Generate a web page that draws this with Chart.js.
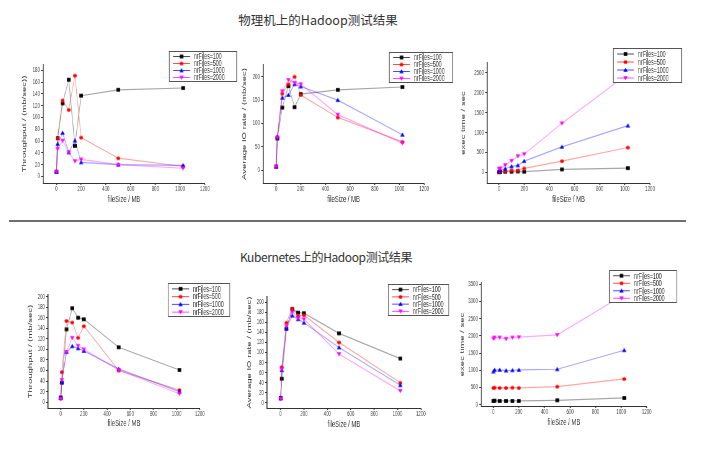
<!DOCTYPE html>
<html>
<head>
<meta charset="utf-8">
<script src="https://cdn.jsdelivr.net/npm/chart.js@4"></script>
<style>
  body { margin: 0; background: #fff; width: 714px; height: 452px; position: relative; overflow: hidden; }
  .title { position: absolute; transform: translate(-50%, -50%); white-space: nowrap; color: #333; font-family: "Noto Sans CJK SC", sans-serif; }
  #rule { position: absolute; left: 9px; top: 220px; width: 677px; height: 2px; background: #6e6e6e; }
  canvas { position: absolute; transform-origin: 0 0; }
</style>
</head>
<body>
<div class="title" style="left:318px;top:19px;font-size:12.5px">物理机上的Hadoop测试结果</div>
<div id="rule"></div>
<div class="title" style="left:326px;top:256px;font-size:12px;letter-spacing:-0.4px">Kubernetes上的Hadoop测试结果</div>
<canvas id="c1"></canvas>
<canvas id="c2"></canvas>
<canvas id="c3"></canvas>
<canvas id="c4"></canvas>
<canvas id="c5"></canvas>
<canvas id="c6"></canvas>
<script>
  // file sizes (MB) and series names
  const fileSize = [1, 10, 50, 100, 150, 200, 500, 1024];
  const seriesNames = ["nrFiles=100", "nrFiles=500", "nrFiles=1000", "nrFiles=2000"];
  const xTicks = [0, 200, 400, 600, 800, 1000, 1200];

  // physical machine
  const phyTput100 = [8, 65, 124, 164, 52, 137, 147, 150];
  const phyTput500 = [8, 65, 129, 113, 171, 66, 31, 17];
  const phyTput1000 = [8, 55, 74, 41, 61, 24, 20, 19];
  const phyTput2000 = [8, 47, 61, 41, 26, 29, 20, 14];

  const phyIo100 = [8, 68, 134, 180, 135, 163, 172, 178];
  const phyIo500 = [8, 71, 164, 184, 200, 161, 113, 61];
  const phyIo1000 = [8, 72, 155, 161, 184, 179, 150, 76];
  const phyIo2000 = [8, 70, 169, 193, 187, 184, 119, 58];

  const phyExec100 = [5, 8, 17, 17, 25, 17, 75, 108];
  const phyExec500 = [20, 25, 33, 50, 50, 100, 283, 625];
  const phyExec1000 = [40, 58, 92, 150, 175, 283, 642, 1175];
  const phyExec2000 = [90, 100, 183, 292, 408, 458, 1233, 2480];

  // kubernetes
  const k8sTput100 = [9, 37, 138, 178, 160, 157, 104, 61];
  const k8sTput500 = [7, 57, 154, 151, 122, 144, 60, 23];
  const k8sTput1000 = [8, 38, 95, 106, 102, 97, 63, 20];
  const k8sTput2000 = [6, 42, 95, 122, 107, 100, 61, 16];

  const k8sIo100 = [10, 48, 147, 186, 179, 178, 138, 88];
  const k8sIo500 = [9, 71, 159, 187, 172, 174, 120, 40];
  const k8sIo1000 = [9, 65, 148, 173, 166, 159, 110, 35];
  const k8sIo2000 = [8, 67, 152, 180, 168, 166, 97, 24];

  const k8sExec100 = [107, 116, 107, 107, 107, 107, 126, 194];
  const k8sExec500 = [485, 495, 485, 485, 495, 485, 524, 747];
  const k8sExec1000 = [960, 1009, 1009, 989, 999, 1009, 1028, 1581];
  const k8sExec2000 = [1920, 1950, 1950, 1911, 1950, 1959, 2027, 3200];

  const tputTicksPhy = [0, 20, 40, 60, 80, 100, 120, 140, 160, 180];
  const ioTicksPhy = [0, 50, 100, 150, 200];
  const execTicksPhy = [0, 500, 1000, 1500, 2000, 2500];
  const tputTicksK8s = [0, 20, 40, 60, 80, 100, 120, 140, 160, 180, 200];
  const ioTicksK8s = [0, 20, 40, 60, 80, 100, 120, 140, 160, 180, 200];
  const execTicksK8s = [0, 500, 1000, 1500, 2000, 2500, 3000, 3500];

  // the source plots look squeezed sideways
  const S = 0.62;

  const marks = [
    { color: "#000", line: "rgba(0,0,0,0.35)", shape: "rect" },
    { color: "#f00", line: "rgba(255,0,0,0.35)", shape: "circle" },
    { color: "#00f", line: "rgba(0,0,255,0.35)", shape: "up" },
    { color: "#f0f", line: "rgba(255,0,255,0.35)", shape: "down" },
  ];

  function makeMarker(shape, color) {
    const m = 3.7;
    const c = document.createElement("canvas");
    c.width = Math.ceil(m / S) + 2;
    c.height = Math.ceil(m) + 2;
    const g = c.getContext("2d");
    g.setTransform(1 / S, 0, 0, 1, c.width / 2, c.height / 2);
    g.fillStyle = color;
    g.beginPath();
    if (shape === "rect") g.rect(-m / 2, -m / 2, m, m);
    else if (shape === "circle") g.arc(0, 0, m / 2, 0, Math.PI * 2);
    else if (shape === "up") { g.moveTo(0, -m / 2 - 0.4); g.lineTo(m / 2 + 0.4, m / 2); g.lineTo(-m / 2 - 0.4, m / 2); }
    else { g.moveTo(0, m / 2 + 0.4); g.lineTo(m / 2 + 0.4, -m / 2); g.lineTo(-m / 2 - 0.4, -m / 2); }
    g.closePath();
    g.fill();
    return c;
  }
  marks.forEach(mk => mk.img = makeMarker(mk.shape, mk.color));

  const charts = [
    { id: "c1", plot: [43, 65, 205, 183], legend: [169, 51, 237, 82], yTitleX: 25, xTitleY: 199, xMin: -108, yMin: -11, yMax: 189,
      yTicks: tputTicksPhy, yTitle: "Throughput / (mb/sec))", series: [phyTput100, phyTput500, phyTput1000, phyTput2000] },
    { id: "c2", plot: [263, 65, 424, 183], legend: [389, 52, 453, 83], yTitleX: 245, xTitleY: 199, xMin: -106, yMin: -27, yMax: 225,
      yTicks: ioTicksPhy, yTitle: "Average IO rate / (mb/sec)", series: [phyIo100, phyIo500, phyIo1000, phyIo2000] },
    { id: "c3", plot: [487, 63, 650, 183], legend: [613, 48, 682, 83], yTitleX: 464, xTitleY: 199, xMin: -95, yMin: -267, yMax: 2750,
      yTicks: execTicksPhy, yTitle: "exec time / sec", series: [phyExec100, phyExec500, phyExec1000, phyExec2000] },
    { id: "c4", plot: [48, 295, 200, 408], legend: [168, 283, 230, 317], yTitleX: 31, xTitleY: 423, xMin: -109, yMin: -11, yMax: 203,
      yTicks: tputTicksK8s, yTitle: "Throughput / (mb/sec)", series: [k8sTput100, k8sTput500, k8sTput1000, k8sTput2000] },
    { id: "c5", plot: [267, 297, 421, 408], legend: [388, 284, 449, 316], yTitleX: 250, xTitleY: 424, xMin: -116, yMin: -10, yMax: 210,
      yTicks: ioTicksK8s, yTitle: "Average IO rate / (mb/sec)", series: [k8sIo100, k8sIo500, k8sIo1000, k8sIo2000] },
    { id: "c6", plot: [481, 283, 647, 406], legend: [609, 270, 677, 303], yTitleX: 463, xTitleY: 422, xMin: -96, yMin: -40, yMax: 3535,
      yTicks: execTicksK8s, yTitle: "exec time / sec", series: [k8sExec100, k8sExec500, k8sExec1000, k8sExec2000] },
  ];

  function legendPlugin(lx, ly, lw, lh) {
    return {
      id: "boxLegend",
      afterDraw(chart) {
        const ctx = chart.ctx;
        ctx.save();
        ctx.fillStyle = "#fff";
        ctx.fillRect(lx, ly, lw, lh);
        ctx.strokeStyle = "#555";
        ctx.lineWidth = 1;
        ctx.strokeRect(lx + 0.5, ly + 0.5, lw - 1, lh - 1);
        const rowH = (lh - 3) / 4;
        ctx.font = "8.5px 'Liberation Sans', Arial, sans-serif";
        ctx.textBaseline = "middle";
        seriesNames.forEach((name, i) => {
          const cy = ly + 2 + rowH * (i + 0.5);
          const mk = marks[i];
          ctx.strokeStyle = mk.line.replace("0.35", "0.7");
          ctx.lineWidth = 1;
          ctx.beginPath();
          ctx.moveTo(lx + 4 / S, cy);
          ctx.lineTo(lx + 21 / S, cy);
          ctx.stroke();
          ctx.drawImage(mk.img, lx + 12.5 / S - mk.img.width / 2, cy - mk.img.height / 2);
          ctx.fillStyle = "#333";
          ctx.fillText(name, lx + 25 / S, cy + 0.5);
        });
        ctx.restore();
      }
    };
  }

  charts.forEach(cfg => {
    const [L, T, R, B] = cfg.plot;
    const lg = cfg.legend;
    const x0 = cfg.yTitleX - 4;
    const y0 = Math.min(lg[1], T) - 2;
    const x1 = Math.max(lg[2], R) + 3;
    const y1 = cfg.xTitleY + 6;

    const cv = document.getElementById(cfg.id);
    cv.width = Math.round((x1 - x0) / S);
    cv.height = y1 - y0;
    cv.style.width = cv.width + "px";
    cv.style.height = cv.height + "px";
    cv.style.left = x0 + "px";
    cv.style.top = y0 + "px";
    cv.style.transform = "scaleX(" + S + ")";

    const tickFont = { family: "'Liberation Sans', Arial, sans-serif", size: 7 };
    const titleFont = { family: "'Liberation Sans', Arial, sans-serif", size: 9.5 };

    new Chart(cv.getContext("2d"), {
      type: "scatter",
      data: {
        datasets: cfg.series.map((vals, i) => ({
          label: seriesNames[i],
          data: fileSize.map((x, j) => ({ x: x, y: vals[j] })),
          showLine: true,
          borderColor: marks[i].line,
          borderWidth: 1.2,
          pointStyle: marks[i].img,
          pointRadius: 3,
          order: 3 - i,
        })),
      },
      options: {
        responsive: false,
        animation: false,
        events: [],
        layout: { padding: { top: T - y0, right: (x1 - R) / S, left: 0, bottom: 0 } },
        plugins: { legend: { display: false }, tooltip: { enabled: false } },
        scales: {
          x: {
            type: "linear",
            min: cfg.xMin,
            max: 1200,
            afterBuildTicks: (axis) => { axis.ticks = xTicks.map(v => ({ value: v })); },
            afterFit: (scale) => { scale.height = y1 - B; },
            grid: { display: true, drawOnChartArea: false, drawTicks: true, tickLength: 2, tickWidth: 1.6, tickColor: "#333" },
            border: { display: true, color: "#333", width: 1 },
            ticks: { font: tickFont, color: "#444", padding: 0, maxRotation: 0, autoSkip: false, callback: (v) => String(v) },
            title: { display: true, text: "fileSize / MB", font: titleFont, color: "#333", padding: 0 },
          },
          y: {
            type: "linear",
            min: cfg.yMin,
            max: cfg.yMax,
            afterBuildTicks: (axis) => { axis.ticks = cfg.yTicks.map(v => ({ value: v })); },
            afterFit: (scale) => { scale.width = (L - x0) / S; },
            grid: { display: true, drawOnChartArea: false, drawTicks: true, tickLength: 3, tickWidth: 1, tickColor: "#333" },
            border: { display: true, color: "#333", width: 1.6 },
            ticks: { font: tickFont, color: "#444", padding: 2, autoSkip: false, callback: (v) => String(v) },
            title: { display: true, text: cfg.yTitle, font: titleFont, color: "#333", padding: 0 },
          },
        },
      },
      plugins: [legendPlugin((lg[0] - x0) / S, lg[1] - y0, (lg[2] - lg[0]) / S, lg[3] - lg[1])],
    });
  });
</script>
</body>
</html>
